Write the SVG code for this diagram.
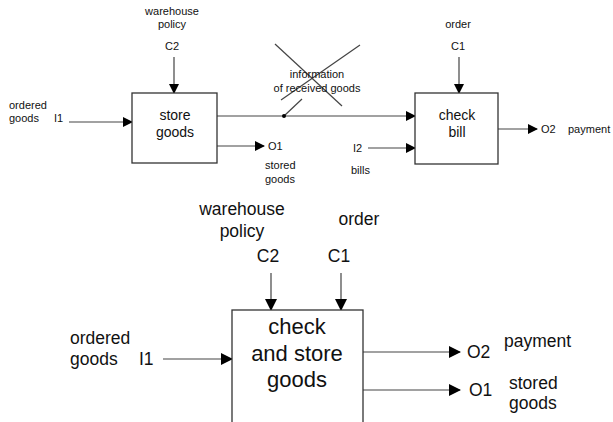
<svg xmlns="http://www.w3.org/2000/svg" width="613" height="422" viewBox="0 0 613 422">
<style>
text{font-family:"Liberation Sans",Arial,sans-serif;fill:#111}
.s{font-size:11px}
.m{font-size:14px}
.l{font-size:17.5px}
.xl{font-size:22px}
.box{fill:#fff;stroke:#333;stroke-width:1.3}
.ln{stroke:#444;stroke-width:1.2;fill:none}
.c{text-anchor:middle}
</style>
<defs>
<marker id="a" markerWidth="10" markerHeight="10" refX="9" refY="5" orient="auto" markerUnits="userSpaceOnUse"><path d="M0,0 L10,5 L0,10 Z" fill="#000"/></marker>
<marker id="b" markerWidth="12" markerHeight="12" refX="11" refY="6" orient="auto" markerUnits="userSpaceOnUse"><path d="M0,0 L12,6 L0,12 Z" fill="#000"/></marker>
</defs>
<g id="connectors">
<line class="ln" x1="174" y1="57" x2="174" y2="93" marker-end="url(#a)"/>
<line class="ln" x1="69" y1="122" x2="132" y2="122" marker-end="url(#a)"/>
<line class="ln" x1="217" y1="116" x2="415" y2="116" marker-end="url(#a)"/>
<line class="ln" x1="217" y1="146" x2="264" y2="146" marker-end="url(#a)"/>
<line class="ln" x1="459" y1="57" x2="459" y2="93" marker-end="url(#a)"/>
<line class="ln" x1="368" y1="148" x2="415" y2="148" marker-end="url(#a)"/>
<line class="ln" x1="498" y1="129" x2="537" y2="129" marker-end="url(#a)"/>
<line class="ln" x1="302" y1="99" x2="284" y2="116"/>
<circle cx="284" cy="116" r="2" fill="#000"/>
<line class="ln" x1="275" y1="44" x2="342" y2="106"/>
<line class="ln" x1="360" y1="45" x2="281" y2="100"/>
<line class="ln" x1="271" y1="273" x2="271" y2="310" marker-end="url(#b)"/>
<line class="ln" x1="341" y1="273" x2="341" y2="310" marker-end="url(#b)"/>
<line class="ln" x1="163" y1="359" x2="232" y2="359" marker-end="url(#b)"/>
<line class="ln" x1="363" y1="352" x2="460" y2="352" marker-end="url(#b)"/>
<line class="ln" x1="363" y1="390" x2="460" y2="390" marker-end="url(#b)"/>
</g>
<g id="store-goods">
<rect class="box" x="132" y="93" width="85" height="70"/>
<text class="m c" x="175" y="120">store</text>
<text class="m c" x="175" y="137">goods</text>
</g>
<g id="check-bill">
<rect class="box" x="415" y="93" width="83" height="71"/>
<text class="m c" x="457" y="120">check</text>
<text class="m c" x="457" y="137">bill</text>
</g>
<g id="check-and-store-goods">
<rect class="box" x="232" y="310" width="131" height="125"/>
<text class="xl c" x="297" y="334">check</text>
<text class="xl c" x="297" y="361">and store</text>
<text class="xl c" x="297" y="387">goods</text>
</g>
<g id="labels-top">
<text class="s c" x="172" y="15">warehouse</text>
<text class="s c" x="172" y="28">policy</text>
<text class="s c" x="172" y="50">C2</text>
<text class="s" x="9" y="109">ordered</text>
<text class="s" x="9" y="122">goods</text>
<text class="s" x="54" y="122">I1</text>
<text class="s" x="268" y="150">O1</text>
<text class="s" x="265" y="169">stored</text>
<text class="s" x="265" y="183">goods</text>
<text class="s c" x="317" y="78">information</text>
<text class="s c" x="317" y="92">of received goods</text>
<text class="s c" x="458" y="28">order</text>
<text class="s c" x="458" y="50">C1</text>
<text class="s" x="353" y="152">I2</text>
<text class="s" x="351" y="174">bills</text>
<text class="s" x="541" y="133">O2</text>
<text class="s" x="568" y="133">payment</text>
</g>
<g id="labels-bottom">
<text class="l c" x="242" y="215">warehouse</text>
<text class="l c" x="242" y="237">policy</text>
<text class="l c" x="268" y="262">C2</text>
<text class="l c" x="359" y="225">order</text>
<text class="l c" x="339" y="262">C1</text>
<text class="l" x="70" y="344">ordered</text>
<text class="l" x="70" y="365">goods</text>
<text class="l" x="139" y="365">I1</text>
<text class="l" x="467" y="358">O2</text>
<text class="l" x="504" y="347">payment</text>
<text class="l" x="469" y="396">O1</text>
<text class="l" x="509" y="389">stored</text>
<text class="l" x="509" y="409">goods</text>
</g>
</svg>
